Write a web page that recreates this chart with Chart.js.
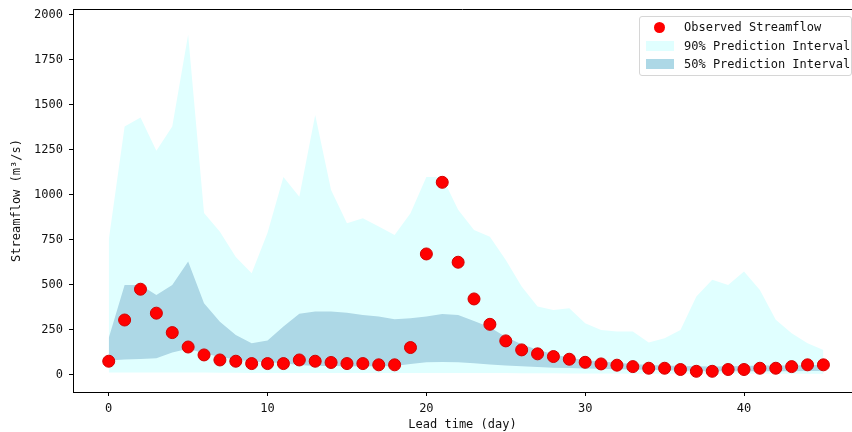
<!DOCTYPE html>
<html>
<head>
<meta charset="utf-8">
<script src="https://cdn.jsdelivr.net/npm/chart.js@4/dist/chart.umd.min.js"></script>
<style>
  body { margin: 0; background: #fff; }
  #wrap { position: relative; width: 852px; height: 432px; }
  #legend {
    position: absolute; left: 639px; top: 16px; width: 211px; height: 58px;
    border: 1px solid #d6d6d6; border-radius: 3px; background: rgba(255,255,255,0.85);
    font-family: "DejaVu Sans Mono", monospace; font-size: 12px; color: #111;
  }
  .row { position: absolute; left: 0; height: 18px; line-height: 18px; }
  .row span.txt { position: absolute; left: 44px; white-space: nowrap; }
  .mk { position: absolute; }
</style>
</head>
<body>
<div id="wrap">
  <canvas id="myChart" width="852" height="432"></canvas>
  <div id="legend">
    <div class="row" style="top:1px"><div class="mk" style="left:14px;top:4px;width:11px;height:11px;border-radius:50%;background:#f00;"></div><span class="txt">Observed Streamflow</span></div>
    <div class="row" style="top:20px"><div class="mk" style="left:6px;top:4px;width:28px;height:10px;background:#e0ffff;"></div><span class="txt">90% Prediction Interval</span></div>
    <div class="row" style="top:38px"><div class="mk" style="left:6px;top:4px;width:28px;height:10px;background:#add8e6;"></div><span class="txt">50% Prediction Interval</span></div>
  </div>
</div>
<script>
// Lead time (day)
const days = [0, 1, 2, 3, 4, 5, 6, 7, 8, 9, 10, 11, 12, 13, 14, 15, 16, 17, 18, 19, 20, 21, 22,
    23, 24, 25, 26, 27, 28, 29, 30, 31, 32, 33, 34, 35, 36, 37, 38, 39, 40, 41, 42, 43, 44, 45];

// Observed streamflow (m3/s)
const observed = [76, 305, 476, 343, 235, 155, 111, 83, 76, 63, 63, 63, 83, 76, 69, 63, 63, 56, 56, 152,
    672, 1070, 626, 422, 281, 189, 139, 117, 102, 87, 70, 61, 54, 46, 37, 37, 30, 20, 20, 30,
    30, 37, 37, 46, 56, 56];

// 90% prediction interval
const lower90 = [14, 14, 14, 14, 14, 14, 13, 12, 12, 11, 11, 11, 10, 10, 10, 10, 10, 10, 10, 10,
    11, 11, 11, 10, 10, 10, 9, 9, 9, 8, 8, 8, 8, 7, 7, 7, 7, 6, 6, 6,
    6, 6, 6, 6, 6, 6];
const upper90 = [750, 1380, 1430, 1245, 1380, 1890, 900, 795, 655, 565, 790, 1100, 990, 1444, 1028, 843, 870, 824, 778, 898,
    1100, 1100, 917, 805, 768, 639, 491, 380, 361, 370, 287, 250, 241, 241, 180, 204, 250, 435, 528, 500,
    574, 472, 306, 231, 176, 139];

// 50% prediction interval
const lower50 = [80, 85, 88, 92, 125, 145, 120, 100, 85, 75, 70, 65, 55, 50, 50, 48, 48, 48, 50, 60,
    70, 72, 70, 65, 58, 52, 48, 44, 40, 38, 36, 34, 32, 30, 28, 26, 24, 22, 20, 20,
    20, 20, 20, 20, 22, 22];
const upper50 = [205, 500, 500, 444, 500, 630, 398, 296, 222, 176, 191, 269, 340, 352, 352, 346, 333, 324, 309, 315,
    324, 339, 333, 300, 265, 210, 170, 140, 115, 95, 82, 75, 68, 60, 55, 52, 50, 48, 46, 48,
    50, 52, 52, 52, 55, 55];

const yTicks = [0, 250, 500, 750, 1000, 1250, 1500, 1750, 2000];
const xTicks = [0, 10, 20, 30, 40];

function pts(vals) {
    return days.map((d, i) => ({ x: d, y: vals[i] }));
}

// top spine like matplotlib's frame
const topLine = {
    id: 'topLine',
    afterDraw(chart) {
        const c = chart.ctx, a = chart.chartArea;
        c.save();
        c.strokeStyle = '#000';
        c.lineWidth = 1;
        c.beginPath();
        c.moveTo(a.left, a.top + 0.5);
        c.lineTo(a.right, a.top + 0.5);
        c.stroke();
        c.restore();
    }
};

const tickFont = { family: '"DejaVu Sans Mono", monospace', size: 12 };

const ctx = document.getElementById('myChart').getContext('2d');
const myChart = new Chart(ctx, {
    type: 'line',
    data: {
        datasets: [
            { label: 'lower90', data: pts(lower90), order: 3, pointRadius: 0, borderWidth: 0, fill: false },
            { label: '90% Prediction Interval', data: pts(upper90), order: 3, pointRadius: 0, borderWidth: 0,
              fill: '-1', backgroundColor: '#e0ffff' },
            { label: 'lower50', data: pts(lower50), order: 2, pointRadius: 0, borderWidth: 0, fill: false },
            { label: '50% Prediction Interval', data: pts(upper50), order: 2, pointRadius: 0, borderWidth: 0,
              fill: '-1', backgroundColor: '#add8e6' },
            { type: 'scatter', label: 'Observed Streamflow', data: pts(observed), order: 0,
              pointRadius: 6, backgroundColor: '#ff0000', borderColor: '#d40000', borderWidth: 1 }
        ]
    },
    options: {
        responsive: false,
        animation: false,
        layout: { autoPadding: false, padding: { top: 9, right: 0, left: 0, bottom: 0 } },
        plugins: { legend: { display: false }, tooltip: { enabled: false } },
        scales: {
            x: {
                type: 'linear',
                min: -2.25,
                max: 46.8,
                afterFit: (s) => { s.height = 40; s.paddingLeft = 0; s.paddingRight = 0; },
                afterBuildTicks: (s) => { s.ticks = xTicks.map(v => ({ value: v })); },
                ticks: { font: tickFont, color: '#111', padding: 6, maxRotation: 0, callback: (v) => String(v) },
                grid: { drawOnChartArea: false, drawTicks: true, tickLength: 4, color: '#000' },
                border: { display: true, color: '#000', width: 1 },
                title: { display: true, text: 'Lead time (day)', font: tickFont, color: '#111', padding: { top: 0, bottom: 0 } }
            },
            y: {
                min: -95,
                max: 2033,
                afterFit: (s) => { s.width = 73; s.paddingTop = 0; s.paddingBottom = 0; },
                afterBuildTicks: (s) => { s.ticks = yTicks.map(v => ({ value: v })); },
                ticks: { font: tickFont, color: '#111', padding: 6, callback: (v) => String(v) },
                grid: { drawOnChartArea: false, drawTicks: true, tickLength: 4, color: '#000' },
                border: { display: true, color: '#000', width: 1 },
                title: { display: true, text: 'Streamflow (m³/s)', font: tickFont, color: '#111', padding: { top: 10, bottom: 0 } }
            }
        }
    },
    plugins: [topLine]
});
</script>
</body>
</html>
